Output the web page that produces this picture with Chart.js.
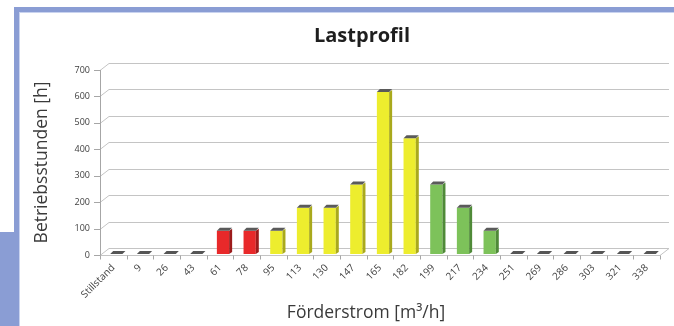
<!DOCTYPE html>
<html>
<head>
<meta charset="utf-8">
<title>Lastprofil</title>
<script src="https://cdn.jsdelivr.net/npm/chart.js@4.4.1/dist/chart.umd.min.js"></script>
<style>
  html, body { margin: 0; padding: 0; background: #ffffff; }
  #wrap { position: relative; width: 674px; height: 326px; }
  canvas { display: block; }
</style>
</head>
<body>
<div id="wrap"><canvas id="c" width="674" height="326"></canvas></div>
<script>
// Flow-rate classes (m³/h) and operating hours per class
const categories = ['Stillstand', '9', '26', '43', '61', '78', '95', '113', '130', '147',
                    '165', '182', '199', '217', '234', '251', '269', '286', '303', '321', '338'];
const operatingHours = [0, 0, 0, 0, 88, 88, 88, 175, 175, 263, 613, 438, 263, 175, 88, 0, 0, 0, 0, 0, 0];
const yTickValues = [0, 100, 200, 300, 400, 500, 600, 700];

const chartTitle = 'Lastprofil';
const xTitle = 'Förderstrom [m³/h]';
const yTitle = 'Betriebsstunden [h]';

// Colour zone of each flow class
const zones = ['none', 'none', 'none', 'none', 'red', 'red', 'yellow', 'yellow', 'yellow', 'yellow',
               'yellow', 'yellow', 'green', 'green', 'green', 'none', 'none', 'none', 'none', 'none', 'none'];
const palette = {
  red:    { front: '#e8292a', side: '#9c1b1b', top: '#5a5a5a' },
  yellow: { front: '#eded2e', side: '#a9a91c', top: '#5a5a5a' },
  green:  { front: '#7dc25a', side: '#4f8a38', top: '#5a5a5a' },
  none:   { front: '#555555', side: '#555555', top: '#555555' }
};

const FONT = '"Open Sans", "Noto Sans", "DejaVu Sans", sans-serif';
const WALL_DX = 9, WALL_DY = 7;     // depth of the back wall
const COL_DX = 3, COL_DY = 2;       // depth of each column
const COL_SHIFT_X = 3, COL_SHIFT_Y = -1;  // columns stand a little inside the floor

const scene3d = {
  id: 'scene3d',
  beforeDraw(chart) {
    const ctx = chart.ctx;
    ctx.save();
    // blue frame
    ctx.fillStyle = '#8a9dd4';
    ctx.fillRect(14, 7, 660, 5);
    ctx.fillRect(14, 7, 5, 225);
    ctx.fillRect(0, 232, 19, 94);
    ctx.fillStyle = '#c9d3ef';
    ctx.fillRect(19, 12, 655, 1);
    ctx.fillRect(19, 12, 1, 314);
    // chart title
    ctx.fillStyle = '#1e1e1e';
    ctx.font = 'bold 20px ' + FONT;
    ctx.textAlign = 'center';
    ctx.textBaseline = 'middle';
    ctx.fillText(chartTitle, 362, 36);
    // x axis title
    ctx.fillStyle = '#3a3a3a';
    ctx.font = '17.5px ' + FONT;
    ctx.fillText(xTitle, 366, 313);
    ctx.restore();
  },
  beforeDatasetsDraw(chart) {
    const { ctx, chartArea: a, scales: { x, y } } = chart;
    const base = Math.round(y.getPixelForValue(0)) + 0.5;
    ctx.save();
    ctx.lineWidth = 1;
    // back wall grid lines with their side-wall diagonals
    ctx.strokeStyle = '#c4c4c4';
    y.ticks.forEach(t => {
      const py = Math.round(y.getPixelForValue(t.value)) + 0.5;
      ctx.beginPath();
      ctx.moveTo(a.left, py);
      ctx.lineTo(a.left + WALL_DX, py - WALL_DY);
      ctx.lineTo(a.right + WALL_DX, py - WALL_DY);
      ctx.stroke();
    });
    // floor
    ctx.beginPath();
    ctx.moveTo(a.left, base);
    ctx.lineTo(a.right, base);
    ctx.lineTo(a.right + WALL_DX, base - WALL_DY);
    ctx.stroke();
    // front value axis and tick marks
    ctx.strokeStyle = '#a6a6a6';
    ctx.beginPath();
    ctx.moveTo(a.left + 0.5, a.top);
    ctx.lineTo(a.left + 0.5, base);
    y.ticks.forEach(t => {
      const py = Math.round(y.getPixelForValue(t.value)) + 0.5;
      ctx.moveTo(a.left - 6, py);
      ctx.lineTo(a.left, py);
    });
    const n = categories.length;
    for (let i = 0; i <= n; i++) {
      const px = Math.round(x.left + i * (x.width / n)) + 0.5;
      ctx.moveTo(px, base);
      ctx.lineTo(px, base + 4);
    }
    ctx.stroke();
    ctx.restore();
    // columns are drawn slightly set back into the floor
    ctx.save();
    ctx.translate(COL_SHIFT_X, COL_SHIFT_Y);
  },
  afterDatasetsDraw(chart) {
    const ctx = chart.ctx;
    const meta = chart.getDatasetMeta(0);
    meta.data.forEach((bar, i) => {
      const p = bar.getProps(['x', 'y', 'base', 'width'], true);
      const l = p.x - p.width / 2, r = p.x + p.width / 2;
      const top = p.y, bottom = p.base;
      const c = palette[zones[i]];
      // right side face
      if (bottom - top > 0.5) {
        ctx.fillStyle = c.side;
        ctx.beginPath();
        ctx.moveTo(r, top);
        ctx.lineTo(r + COL_DX, top - COL_DY);
        ctx.lineTo(r + COL_DX, bottom - COL_DY);
        ctx.lineTo(r, bottom);
        ctx.closePath();
        ctx.fill();
      }
      // top face
      ctx.fillStyle = c.top;
      ctx.beginPath();
      ctx.moveTo(l, top);
      ctx.lineTo(l + COL_DX, top - COL_DY - 1);
      ctx.lineTo(r + COL_DX, top - COL_DY - 1);
      ctx.lineTo(r, top);
      ctx.closePath();
      ctx.fill();
    });
    ctx.restore();
  }
};

new Chart(document.getElementById('c'), {
  type: 'bar',
  data: {
    labels: categories,
    datasets: [{
      data: operatingHours,
      backgroundColor: zones.map(z => palette[z].front),
      borderWidth: 0,
      categoryPercentage: 1,
      barPercentage: 0.46,
      clip: false
    }]
  },
  options: {
    responsive: false,
    animation: false,
    devicePixelRatio: 1,
    layout: { padding: { top: 70, left: 28, right: 14, bottom: 0 } },
    plugins: {
      legend: { display: false },
      title: { display: false },
      tooltip: { enabled: false }
    },
    scales: {
      x: {
        grid: { display: false, tickLength: 6 },
        border: { display: false },
        ticks: {
          color: '#404040',
          font: { family: FONT, size: 10 },
          minRotation: 45,
          maxRotation: 45,
          autoSkip: false,
          padding: 1
        },
        afterFit(scale) { scale.height = 71; }
      },
      y: {
        min: 0,
        max: 700,
        afterBuildTicks(scale) { scale.ticks = yTickValues.map(v => ({ value: v })); },
        grid: { display: false, tickLength: 8 },
        border: { display: false },
        ticks: {
          color: '#404040',
          font: { family: FONT, size: 9 },
          padding: 2
        },
        title: {
          display: true,
          text: yTitle,
          color: '#3a3a3a',
          font: { family: FONT, size: 17.5 },
          padding: { top: 4, bottom: 0 }
        },
        afterFit(scale) { scale.width = 72; }
      }
    }
  },
  plugins: [scene3d]
});
</script>
</body>
</html>
